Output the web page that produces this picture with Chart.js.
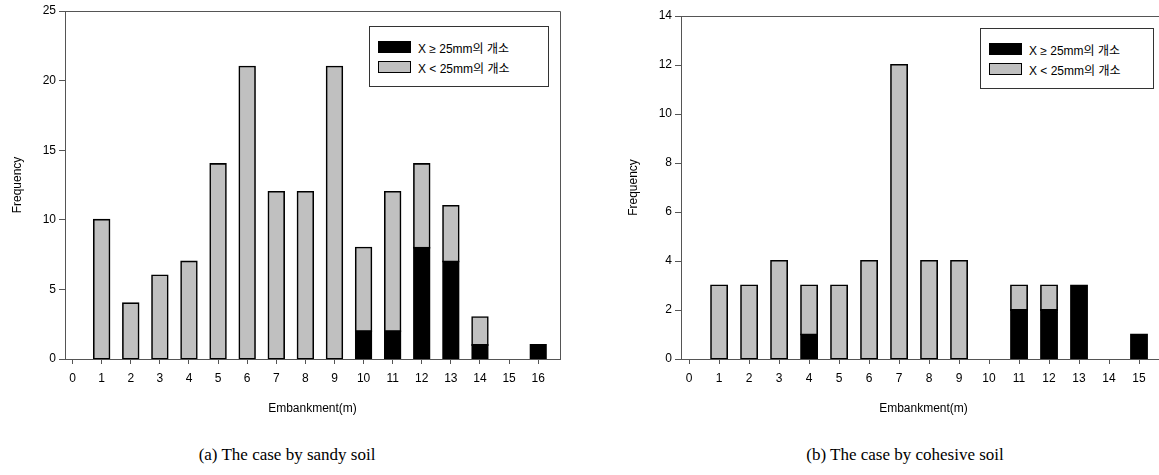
<!DOCTYPE html>
<html>
<head>
<meta charset="utf-8">
<script src="https://cdn.jsdelivr.net/npm/chart.js@4.4.0/dist/chart.umd.min.js"></script>
<style>
  body { margin: 0; width: 1159px; height: 475px; overflow: hidden; position: relative; background: #fff;
         font-family: "Liberation Sans", Arial, "Noto Sans CJK KR", sans-serif; }
  .box { position: absolute; }
  .legend { position: absolute; border: 1px solid #333; background: #fff; font-size: 12px; color: #000; box-sizing: border-box; }
  .legend .row { position: absolute; left: 8px; height: 12px; display: flex; align-items: center; white-space: nowrap; }
  .legend .sw { width: 31px; height: 10px; border: 1.5px solid #000; margin-right: 7px; }
  .caption { position: absolute; top: 445px; font-family: "Liberation Serif", "Times New Roman", serif; font-size: 17px; color: #000; text-align: center; width: 300px; }
</style>
</head>
<body>
<div class="box" style="left:0;top:0"><canvas id="sandChart" width="580" height="430"></canvas></div>
<div class="box" style="left:616px;top:0"><canvas id="clayChart" width="570" height="430"></canvas></div>

<div class="legend" id="legendA" style="left:369px;top:26px;width:180px;height:61px"></div>
<div class="legend" id="legendB" style="left:980px;top:28px;width:174px;height:61px"></div>

<div class="caption" style="left:137px">(a) The case by sandy soil</div>
<div class="caption" style="left:755px">(b) The case by cohesive soil</div>

<script>
// 데이터
const seriesLabels = ['X ≥ 25mm의  개소', 'X < 25mm의  개소'];
const seriesColors = ['#000000', '#c0c0c0'];

// (a) 사질토
const sandCats = [0, 1, 2, 3, 4, 5, 6, 7, 8, 9, 10, 11, 12, 13, 14, 15, 16];
const sandOver = [0, 0, 0, 0, 0, 0, 0, 0, 0, 0, 2, 2, 8, 7, 1, 0, 1];
const sandUnder = [0, 10, 4, 6, 7, 14, 21, 12, 12, 21, 6, 10, 6, 4, 2, 0, 0];
const sandYTicks = [0, 5, 10, 15, 20, 25];

// (b) 점성토
const clayCats = [0, 1, 2, 3, 4, 5, 6, 7, 8, 9, 10, 11, 12, 13, 14, 15];
const clayOver = [0, 0, 0, 0, 1, 0, 0, 0, 0, 0, 0, 2, 2, 3, 0, 1];
const clayUnder = [0, 3, 3, 4, 2, 3, 4, 12, 4, 4, 0, 1, 1, 0, 0, 0];
const clayYTicks = [0, 2, 4, 6, 8, 10, 12, 14];

const fontFamily = '"Liberation Sans", Arial, "Noto Sans CJK KR", sans-serif';
const axisColor = '#555';

// 위쪽/오른쪽 테두리
const framePlugin = {
    id: 'frame',
    afterDraw(chart) {
        const a = chart.chartArea;
        const ctx = chart.ctx;
        ctx.save();
        ctx.strokeStyle = axisColor;
        ctx.lineWidth = 1;
        ctx.beginPath();
        ctx.moveTo(a.left, Math.round(a.top) + 0.5);
        ctx.lineTo(Math.round(a.right) + 0.5, Math.round(a.top) + 0.5);
        ctx.lineTo(Math.round(a.right) + 0.5, a.bottom);
        ctx.stroke();
        ctx.restore();
    }
};

function toPoints(cats, vals) {
    return cats.map((c, i) => ({ x: c, y: vals[i] === 0 ? null : vals[i] }));
}

function makeChart(id, cats, over, under, yTicks, xMin, xMax, padTop) {
    const ctx = document.getElementById(id).getContext('2d');
    return new Chart(ctx, {
        type: 'bar',
        data: {
            datasets: [over, under].map((vals, k) => ({
                label: seriesLabels[k],
                data: toPoints(cats, vals),
                backgroundColor: seriesColors[k],
                borderColor: '#000',
                borderWidth: 1.6,
                borderSkipped: false,
                inflateAmount: 1,
                barPercentage: 0.53,
                categoryPercentage: 1
            }))
        },
        options: {
            responsive: false,
            animation: false,
            devicePixelRatio: 1,
            layout: { padding: { top: padTop, right: 20, left: 0, bottom: 0 } },
            plugins: { legend: { display: false }, tooltip: { enabled: false } },
            scales: {
                x: {
                    type: 'linear',
                    stacked: true,
                    offset: false,
                    z: 1,
                    min: xMin,
                    max: xMax,
                    afterBuildTicks: s => { s.ticks = cats.map(v => ({ value: v })); },
                    afterFit: s => { s.height = 71; },
                    grid: { display: true, offset: false, drawOnChartArea: false, tickLength: 5, color: axisColor },
                    border: { display: true, color: axisColor, width: 1 },
                    ticks: { color: '#000', padding: 7, maxRotation: 0, autoSkip: false, font: { family: fontFamily, size: 12 } },
                    title: { display: true, text: 'Embankment(m)', color: '#000', padding: { top: 0, bottom: 14 }, font: { family: fontFamily, size: 12 } }
                },
                y: {
                    stacked: true,
                    min: yTicks[0],
                    max: yTicks[yTicks.length - 1],
                    afterBuildTicks: s => { s.ticks = yTicks.map(v => ({ value: v })); },
                    afterFit: s => { s.width = 65; },
                    grid: { display: true, drawOnChartArea: false, tickLength: 6, color: axisColor },
                    border: { display: true, color: axisColor, width: 1 },
                    ticks: { color: '#000', padding: 3, font: { family: fontFamily, size: 12 } },
                    title: { display: true, text: 'Frequency', color: '#000', padding: { top: 10, bottom: 0 }, font: { family: fontFamily, size: 12 } }
                }
            }
        },
        plugins: [framePlugin]
    });
}

function buildLegend(id) {
    const box = document.getElementById(id);
    seriesLabels.forEach((lab, k) => {
        const row = document.createElement('div');
        row.className = 'row';
        row.style.top = (14 + k * 20) + 'px';
        const sw = document.createElement('span');
        sw.className = 'sw';
        sw.style.background = seriesColors[k];
        const t = document.createElement('span');
        t.textContent = lab;
        row.appendChild(sw);
        row.appendChild(t);
        box.appendChild(row);
    });
}

makeChart('sandChart', sandCats, sandOver, sandUnder, sandYTicks, -0.26, 16.75, 11);
makeChart('clayChart', clayCats, clayOver, clayUnder, clayYTicks, -0.27, 15.9, 16);
buildLegend('legendA');
buildLegend('legendB');
</script>
</body>
</html>
